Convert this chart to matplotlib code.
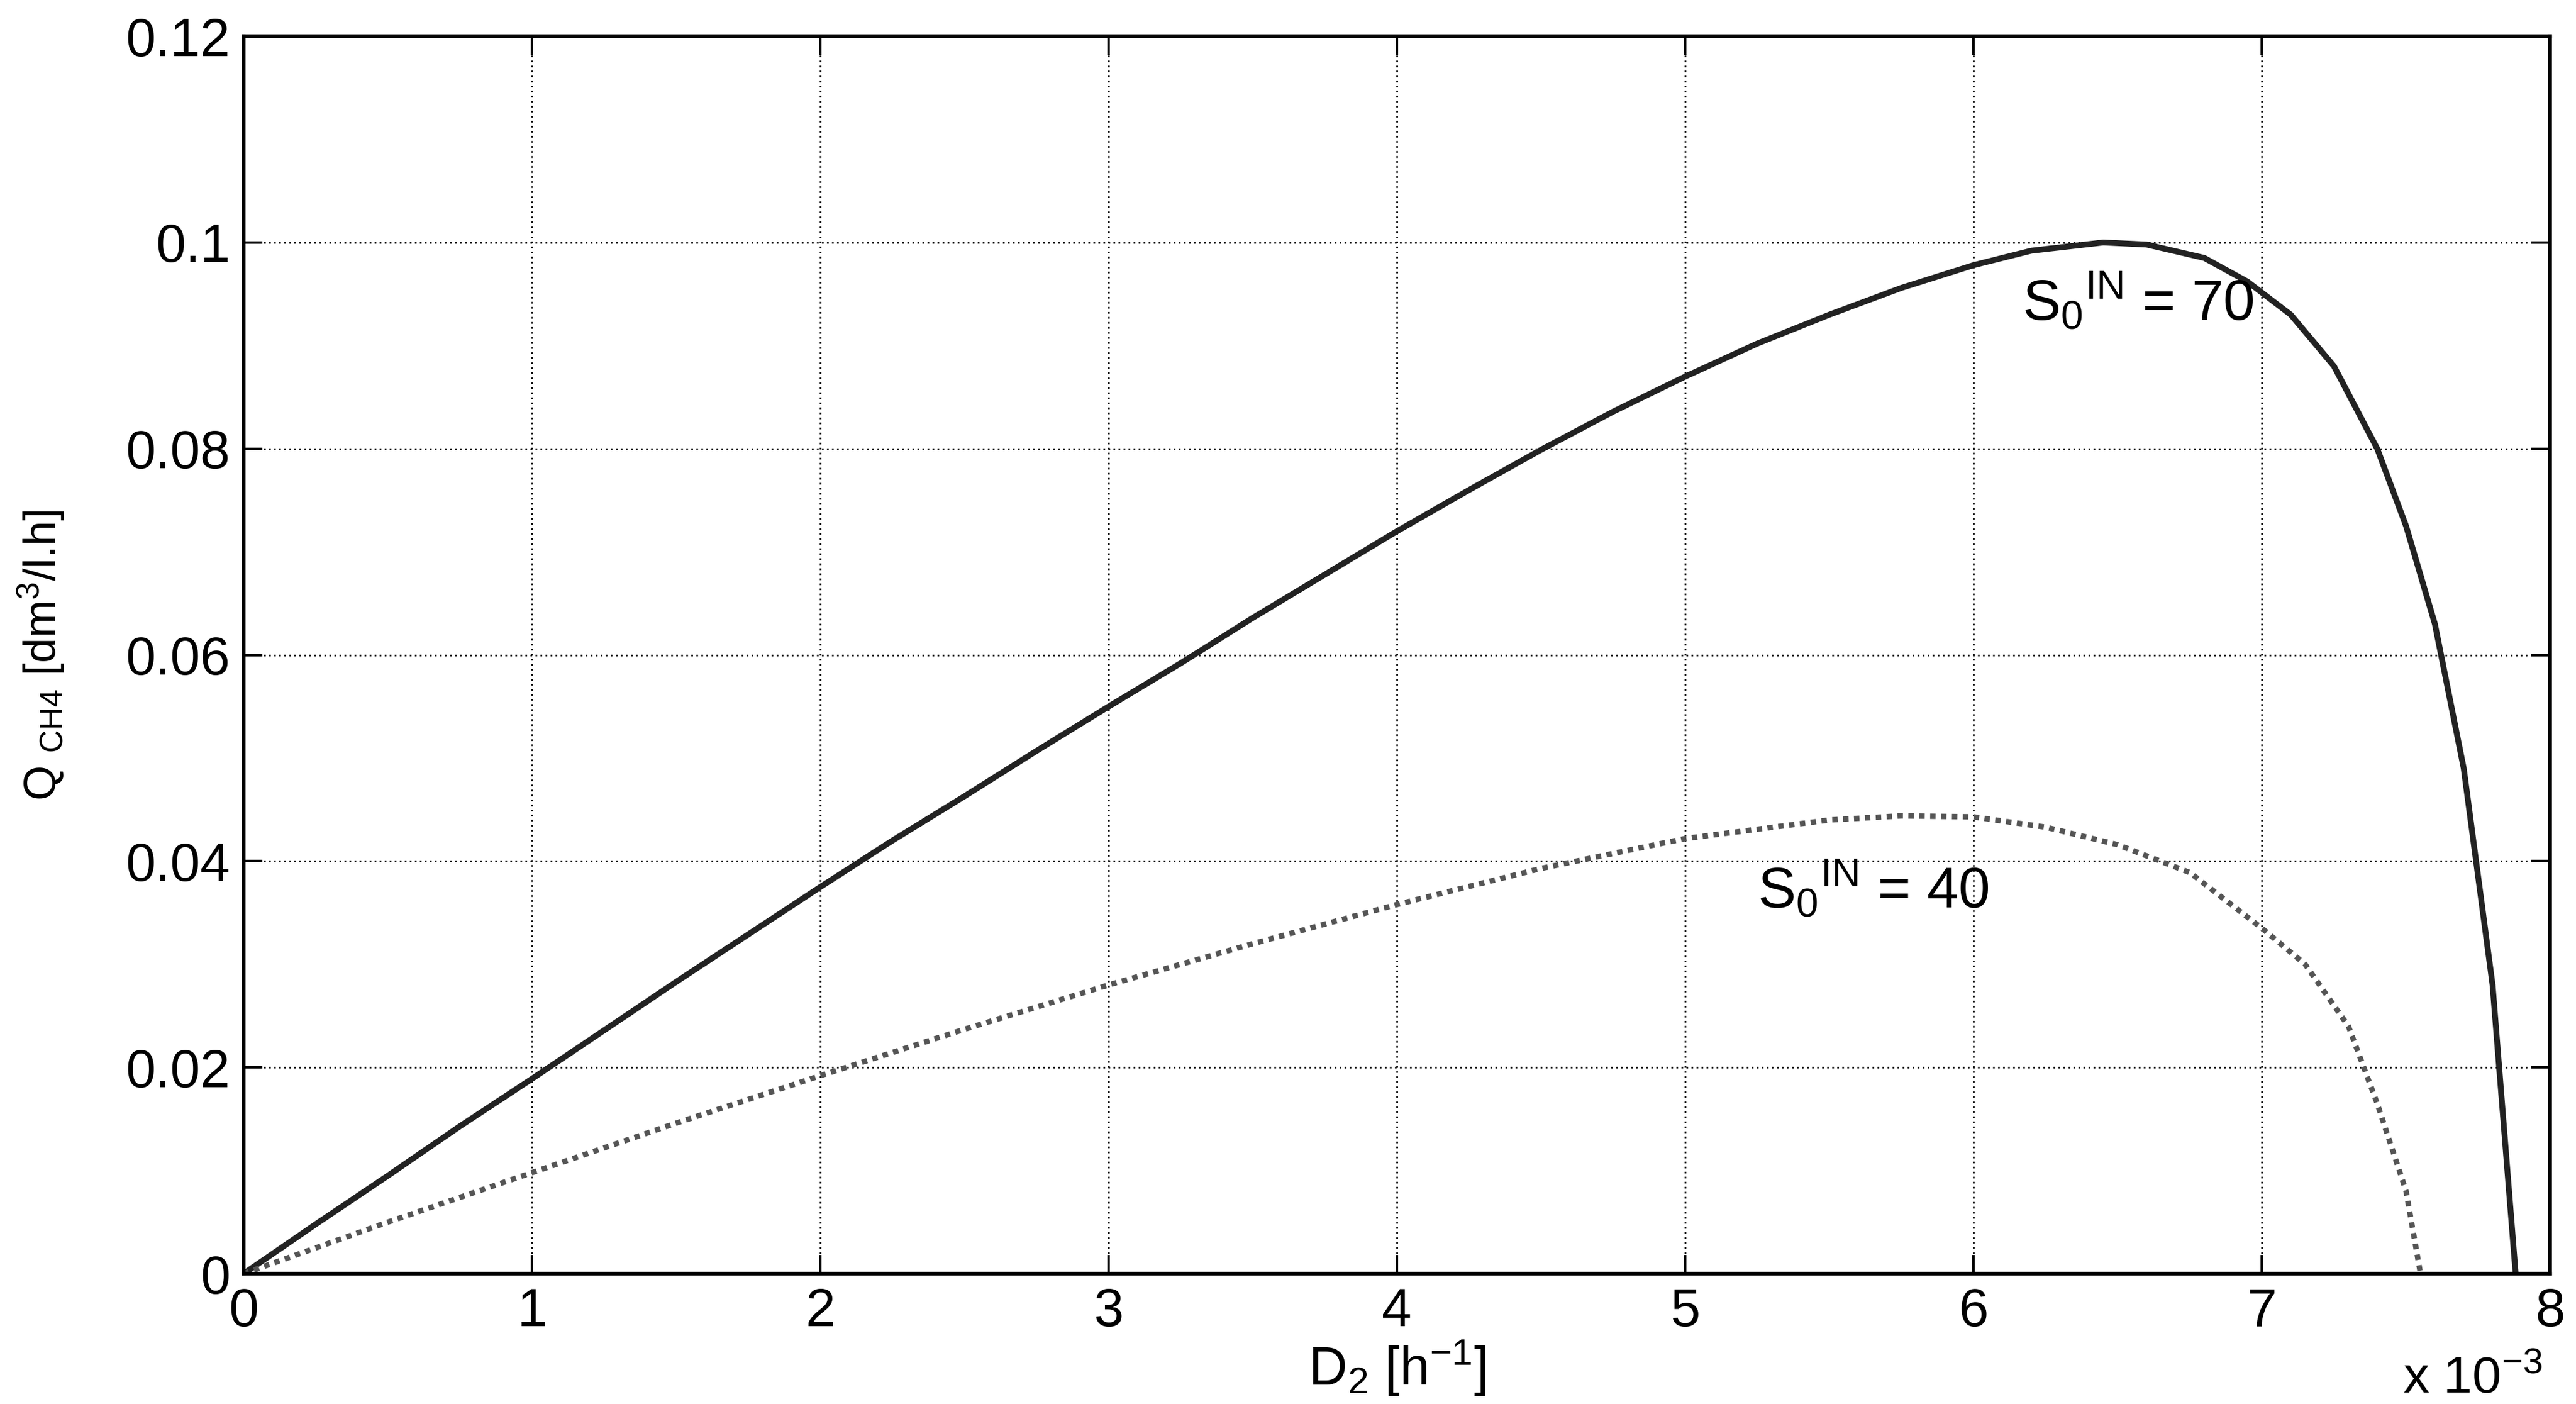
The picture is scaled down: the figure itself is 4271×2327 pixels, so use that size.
import matplotlib
matplotlib.use('Agg')
from matplotlib import pyplot as plt
from matplotlib import font_manager

# D2 values in units of 1e-3 h^-1
d2_70 = [0, 0.25, 0.5, 0.75, 1.0, 1.25, 1.5, 1.75, 2.0, 2.25, 2.5, 2.75, 3.0, 3.25,
         3.5, 3.75, 4.0, 4.25, 4.5, 4.75, 5.0, 5.25, 5.5, 5.75, 6.0, 6.2, 6.45, 6.6,
         6.8, 6.95, 7.1, 7.25, 7.4, 7.5, 7.6, 7.7, 7.8, 7.88]
q_70 = [0, 0.0048, 0.0095, 0.0143, 0.0189, 0.0236, 0.0283, 0.0329, 0.0375, 0.0420,
        0.0463, 0.0507, 0.0550, 0.0592, 0.0636, 0.0678, 0.0720, 0.0760, 0.0799,
        0.0836, 0.0870, 0.0902, 0.0930, 0.0956, 0.0978, 0.0992, 0.1000, 0.0998,
        0.0985, 0.0962, 0.0930, 0.0880, 0.0800, 0.0725, 0.0630, 0.0490, 0.0280, 0.0]

d2_40 = [0, 0.5, 1.0, 1.5, 2.0, 2.5, 3.0, 3.5, 4.0, 4.5, 5.0, 5.5, 5.75, 6.0, 6.25,
         6.5, 6.75, 7.0, 7.15, 7.3, 7.4, 7.5, 7.55]
q_40 = [0, 0.0050, 0.0098, 0.0146, 0.0192, 0.0237, 0.0280, 0.0320, 0.0358, 0.0393,
        0.0422, 0.0440, 0.0444, 0.0443, 0.0433, 0.0416, 0.0389, 0.0335, 0.0300,
        0.0240, 0.0165, 0.0080, 0.0]

x_ticks = [0, 1, 2, 3, 4, 5, 6, 7, 8]
y_ticks = [0, 0.02, 0.04, 0.06, 0.08, 0.1, 0.12]
y_ticklabels = ['0', '0.02', '0.04', '0.06', '0.08', '0.1', '0.12']

names = {f.name for f in font_manager.fontManager.ttflist}
narrow = 'Liberation Sans Narrow' if 'Liberation Sans Narrow' in names else 'Liberation Sans'

plt.rcParams.update({'font.family': 'Liberation Sans', 'mathtext.fontset': 'custom',
                     'mathtext.rm': 'Liberation Sans', 'mathtext.it': 'Liberation Sans'})

fig = plt.figure(figsize=(42.71, 23.27), dpi=100)
ax = fig.add_axes([0.0946, 0.0928, 0.8954, 0.8814])

ax.plot(d2_70, q_70, color='#222222', lw=7, solid_joinstyle='round')
ax.plot(d2_40, q_40, color='#555555', lw=6.5, linestyle=(0, (1, 1.0)))

ax.set_xlim(0, 8)
ax.set_ylim(0, 0.12)
ax.set_xticks(x_ticks)
ax.set_xticklabels([str(v) for v in x_ticks])
ax.set_yticks(y_ticks)
ax.set_yticklabels(y_ticklabels)
ax.grid(True, color='black', linestyle=(0, (1, 2)), linewidth=2)
ax.tick_params(direction='in', length=22, width=3, top=True, right=True,
               labelsize=64, pad=16)
for s in ax.spines.values():
    s.set_linewidth(4.5)

ax.set_xlabel(r'D$_2$ [h$^{-1}$]', fontsize=64, labelpad=0)
ax.set_ylabel(r'Q $_{\rm CH4}$ [dm$^3$/l.h]', fontsize=54, family=narrow, labelpad=70)

ax.text(6.17, 0.0925, r'S$_0$$^{\rm IN}$ = 70', fontsize=68, family=narrow)
ax.text(5.25, 0.0355, r'S$_0$$^{\rm IN}$ = 40', fontsize=68, family=narrow)

fig.text(0.987, 0.008, r'x 10$^{-3}$', fontsize=62, ha='right')

fig.savefig('out.png', dpi=100)
